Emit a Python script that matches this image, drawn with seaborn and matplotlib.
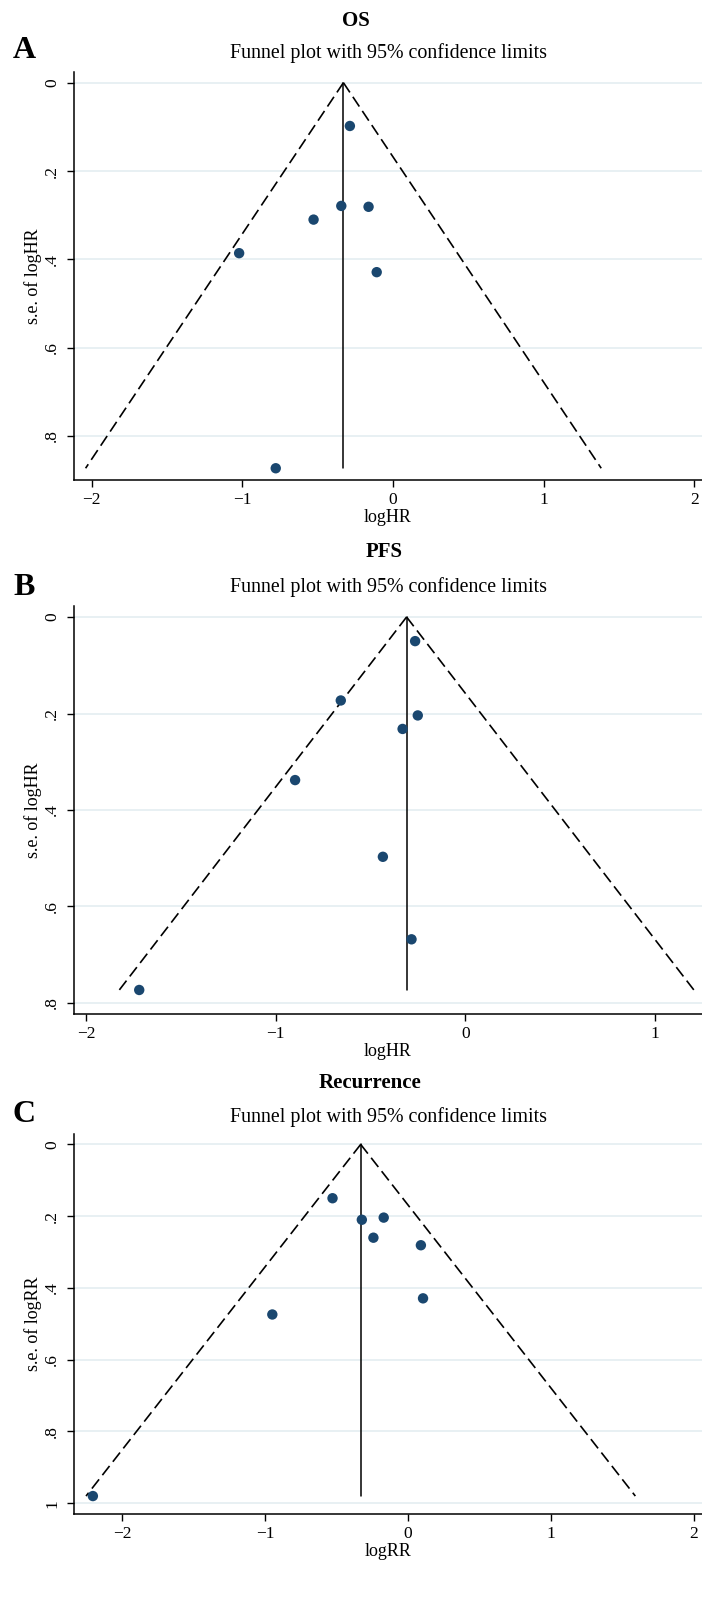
import numpy as np
import pandas as pd
import seaborn as sns
import matplotlib
matplotlib.use("Agg")
import matplotlib.pyplot as plt

# ---------------- data ----------------
os_loghr = [-0.287, -0.344, -0.163, -0.528, -1.022, -0.109, -0.779]
os_se = [0.098, 0.279, 0.281, 0.310, 0.386, 0.429, 0.873]
os_pooled = -0.33

pfs_loghr = [-0.265, -0.657, -0.251, -0.331, -0.898, -0.435, -0.284, -1.72]
pfs_se = [0.050, 0.173, 0.204, 0.232, 0.338, 0.497, 0.668, 0.773]
pfs_pooled = -0.31

rec_logrr = [-0.527, -0.322, -0.169, -0.241, 0.091, 0.106, -0.948, -2.203]
rec_se = [0.150, 0.210, 0.204, 0.260, 0.281, 0.429, 0.474, 0.980]
rec_pooled = -0.33

panel_titles = ["OS", "PFS", "Recurrence"]
panel_letters = ["A", "B", "C"]
subtitle = "Funnel plot with 95% confidence limits"
x_labels = ["logHR", "logHR", "logRR"]
y_labels = ["s.e. of logHR", "s.e. of logHR", "s.e. of logRR"]
x_ticks = [[-2, -1, 0, 1, 2], [-2, -1, 0, 1], [-2, -1, 0, 1, 2]]
y_ticks = [[0, 0.2, 0.4, 0.6, 0.8], [0, 0.2, 0.4, 0.6, 0.8], [0, 0.2, 0.4, 0.6, 0.8, 1.0]]
y_ticklabels = [["0", ".2", ".4", ".6", ".8"], ["0", ".2", ".4", ".6", ".8"],
                ["0", ".2", ".4", ".6", ".8", "1"]]

# ---------------- style ----------------
sns.set_theme(style="white")
plt.rcParams["font.family"] = ["Liberation Serif", "DejaVu Serif"]
plt.rcParams["axes.unicode_minus"] = True
plt.rcParams["text.color"] = "black"
plt.rcParams["axes.labelcolor"] = "black"

W, H = 702, 1600
fig = plt.figure(figsize=(W / 100, H / 100), dpi=100)

NAVY = "#1a476f"
GRID = "#e6eff2"

layouts = [
    dict(top=71.7, bottom=480, xlim=(-2.118, 2.05), ylim=(0.8996, -0.0249),
         title_y=20.7, title_x=356, letter_y=50, sub_y=53.3),
    dict(top=606, bottom=1014, xlim=(-2.064, 1.248), ylim=(0.8228, -0.0228),
         title_y=551.7, title_x=384, letter_y=588, sub_y=586.7),
    dict(top=1134, bottom=1514, xlim=(-2.335, 2.057), ylim=(1.03, -0.029),
         title_y=1083.3, title_x=370, letter_y=1115, sub_y=1116.7),
]

datasets = [
    (os_loghr, os_se, os_pooled),
    (pfs_loghr, pfs_se, pfs_pooled),
    (rec_logrr, rec_se, rec_pooled),
]

left_px = 74
for i, (lay, (xs, ses, pooled)) in enumerate(zip(layouts, datasets)):
    ax = fig.add_axes([left_px / W, 1 - lay["bottom"] / H,
                       (W - left_px) / W, (lay["bottom"] - lay["top"]) / H])
    df = pd.DataFrame({"x": xs, "se": ses})

    for yt in y_ticks[i]:
        ax.axhline(yt, color=GRID, lw=1.3, zorder=0)

    se_max = max(ses)
    se_line = np.array([0.0, se_max])
    ax.plot(pooled - 1.96 * se_line, se_line, color="black", lw=1.2,
            ls=(0, (7, 3.2)), zorder=2)
    ax.plot(pooled + 1.96 * se_line, se_line, color="black", lw=1.2,
            ls=(0, (7, 3.2)), zorder=2)
    ax.plot([pooled, pooled], [0, se_max], color="black", lw=1.1, zorder=2)

    sns.scatterplot(data=df, x="x", y="se", ax=ax, color=NAVY, s=56,
                    edgecolor="none", zorder=3, legend=False)

    ax.set_xlim(*lay["xlim"])
    ax.set_ylim(*lay["ylim"])
    ax.set_xticks(x_ticks[i])
    ax.set_xticklabels([("\u2212" + str(abs(t))) if t < 0 else str(t) for t in x_ticks[i]])
    ax.set_yticks(y_ticks[i])
    ax.set_yticklabels(y_ticklabels[i], rotation=90, va="center")

    for side in ["top", "right"]:
        ax.spines[side].set_visible(False)
    for side in ["left", "bottom"]:
        ax.spines[side].set_color("black")
        ax.spines[side].set_linewidth(1.1)
    ax.tick_params(axis="both", which="major", direction="out", length=5,
                   width=1.0, color="black", labelsize=12.5, labelcolor="black",
                   left=True, bottom=True)
    ax.tick_params(axis="x", pad=4)
    ax.tick_params(axis="y", pad=5)

    ax.set_xlabel(x_labels[i], fontsize=13, labelpad=0, color="black")
    ax.set_ylabel(y_labels[i], fontsize=13, color="black", va="center")
    ax.yaxis.set_label_coords((33 - left_px) / (W - left_px), 0.5)

    fig.text(lay["title_x"] / W, 1 - lay["title_y"] / H, panel_titles[i],
             ha="center", va="center", fontsize=15, fontweight="bold")
    fig.text(24 / W, 1 - lay["letter_y"] / H, panel_letters[i],
             ha="center", va="center", fontsize=23, fontweight="bold")
    fig.text(389 / W, 1 - lay["sub_y"] / H, subtitle,
             ha="center", va="center", fontsize=14.4)

fig.savefig("out.png", dpi=100)
